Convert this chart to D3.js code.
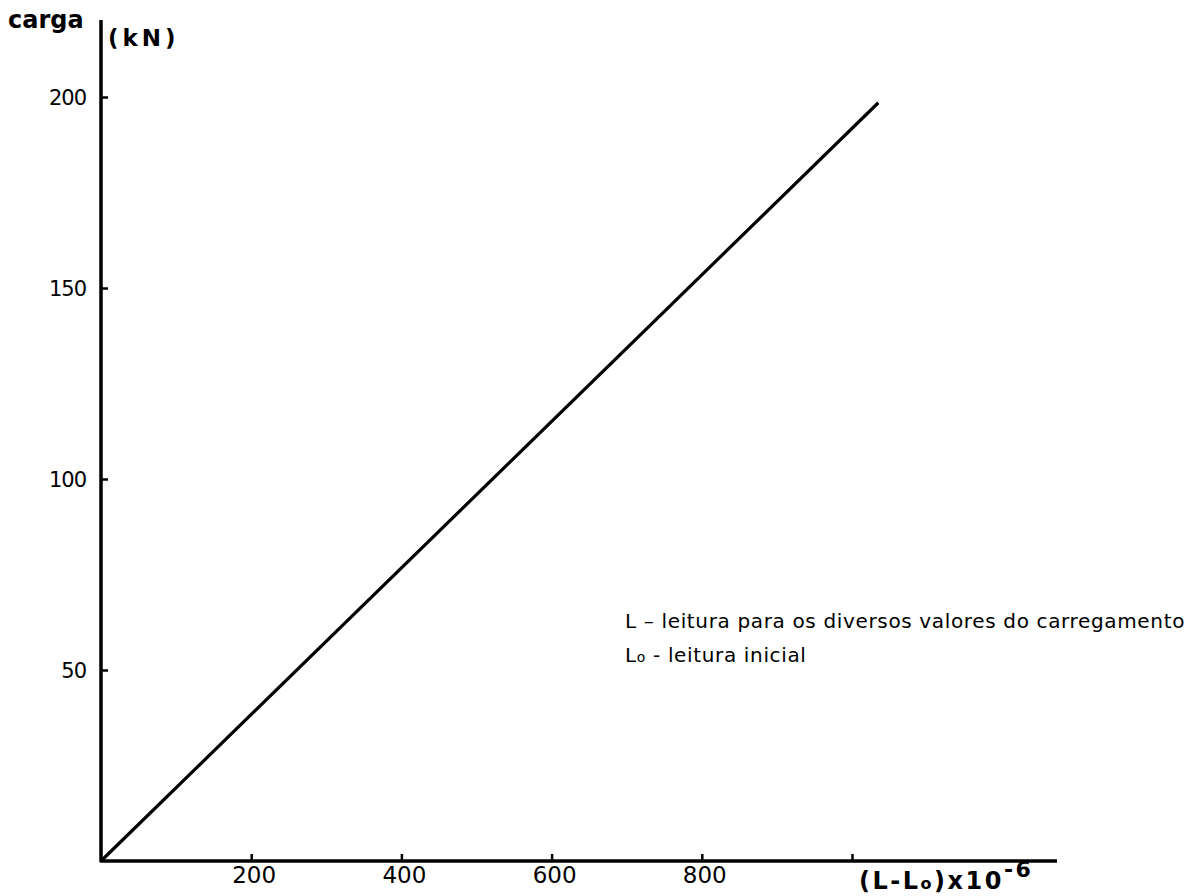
<!DOCTYPE html>
<html>
<head>
<meta charset="utf-8">
<script src="https://cdn.jsdelivr.net/npm/d3@7"></script>
<style>
  body { margin: 0; background: #fff; }
  text { font-family: "DejaVu Sans", sans-serif; fill: #000; }
</style>
</head>
<body>
<div id="chart"></div>
<script>
// Chart data
const deformacao = [0, 1035];     // (L - Lo) x 10^-6
const carga = [0, 198.5];         // kN
const xTicks = [200, 400, 600, 800, 1000];
const xTickLabels = ["200", "400", "600", "800", ""];
const yTicks = [50, 100, 150, 200];
const legendLines = ["leitura para os diversos valores do carregamento", "leitura  inicial"];

const width = 1204;
const height = 896;

const x = d3.scaleLinear().domain([0, 1000]).range([101, 852]);
const y = d3.scaleLinear().domain([0, 200]).range([861, 97]);

const svg = d3.select("#chart").append("svg")
    .attr("width", width)
    .attr("height", height);

// Axes lines
svg.append("line")
    .attr("x1", x(0)).attr("x2", x(0))
    .attr("y1", y(0) + 1).attr("y2", 20)
    .attr("stroke", "#000").attr("stroke-width", 3.5);

svg.append("line")
    .attr("x1", x(0) - 1).attr("x2", 1057)
    .attr("y1", y(0)).attr("y2", y(0))
    .attr("stroke", "#000").attr("stroke-width", 3.5);

// Y ticks
const yAxis = d3.axisRight(y).tickValues(yTicks).tickSize(7).tickFormat("");
const gy = svg.append("g").attr("transform", `translate(${x(0)},0)`).call(yAxis);
gy.select(".domain").remove();
gy.selectAll(".tick line").attr("stroke-width", 2.5);

svg.selectAll(".ylab")
    .data(yTicks)
    .enter().append("text")
    .attr("class", "ylab")
    .attr("x", 86)
    .attr("y", d => y(d) + 8)
    .attr("text-anchor", "end")
    .attr("font-size", 21)
    .attr("letter-spacing", -1)
    .text(d => d);

// X ticks
const xAxis = d3.axisTop(x).tickValues(xTicks).tickSize(7).tickFormat("");
const gx = svg.append("g").attr("transform", `translate(0,${y(0)})`).call(xAxis);
gx.select(".domain").remove();
gx.selectAll(".tick line").attr("stroke-width", 2.5);

svg.selectAll(".xlab")
    .data(xTicks)
    .enter().append("text")
    .attr("class", "xlab")
    .attr("x", d => x(d) + 3)
    .attr("y", 883)
    .attr("text-anchor", "middle")
    .attr("font-size", 23)
    .text((d, i) => xTickLabels[i]);

// Load-deformation line
const line = d3.line()
    .x((d, i) => x(deformacao[i]))
    .y(d => y(d));

svg.append("path")
    .datum(carga)
    .attr("d", line)
    .attr("fill", "none")
    .attr("stroke", "#000")
    .attr("stroke-width", 3.2);

// Axis titles
svg.append("text")
    .attr("x", 8).attr("y", 28)
    .attr("font-size", 24).attr("font-weight", "bold")
    .text("carga");

svg.append("text")
    .attr("x", 108).attr("y", 46)
    .attr("font-size", 23).attr("font-weight", "bold")
    .attr("letter-spacing", 4)
    .text("(kN)");

const xt = svg.append("text")
    .attr("x", 859).attr("y", 889)
    .attr("font-size", 24)
    .attr("font-weight", "bold")
    .attr("letter-spacing", 2.5);
xt.append("tspan").text("(L-L");
xt.append("tspan").attr("font-size", 16).text("o");
xt.append("tspan").text(")x10");
xt.append("tspan").attr("dy", -12).attr("font-size", 22).text("-6");

// Legend
const lg1 = svg.append("text").attr("x", 625).attr("y", 628)
    .attr("font-size", 20).attr("letter-spacing", 0.65);
lg1.append("tspan").text("L – ");
lg1.append("tspan").text(legendLines[0]);

const lg2 = svg.append("text").attr("x", 625).attr("y", 662)
    .attr("font-size", 20).attr("letter-spacing", 0.65);
lg2.append("tspan").text("L");
lg2.append("tspan").attr("font-size", 14).text("o");
lg2.append("tspan").text(" - " + legendLines[1]);
</script>
</body>
</html>
